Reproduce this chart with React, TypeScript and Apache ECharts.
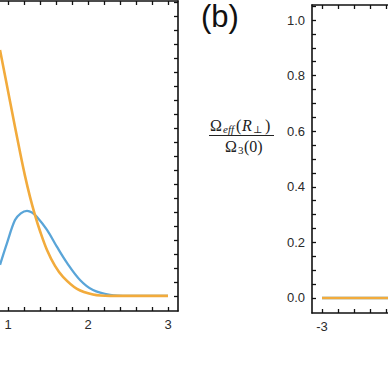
import React, { useEffect, useRef } from "react";
import * as echarts from "echarts";

// Left panel (a), visible part: x from 0.9 to 3.125
const leftBlueX = [0.9, 0.9875, 1.0875, 1.16, 1.2375, 1.3, 1.3625, 1.4875, 1.6125, 1.7375, 1.9, 2.0625, 2.275, 2.5, 3.0];
const leftBlueY = [0.111, 0.189, 0.271, 0.295, 0.304, 0.298, 0.282, 0.236, 0.175, 0.118, 0.057, 0.021, 0.004, 0, 0];
const leftOrangeX = [0.9, 1.025, 1.15, 1.2125, 1.275, 1.3375, 1.4, 1.4875, 1.5875, 1.6875, 1.8625, 2.0625, 2.275, 2.6, 3.0];
const leftOrangeY = [0.879, 0.696, 0.514, 0.429, 0.354, 0.289, 0.232, 0.164, 0.107, 0.068, 0.025, 0.005, 0, 0, 0];

// Right panel (b), visible part: x from -3.125 to about -2.18
const rightX = [-3, -2.5, -2.0];
const rightBlueY = [0, 0, 0];
const rightOrangeY = [0, 0, 0];

// Tick labels
const leftXTicks = [1, 2, 3];
const rightXTicks = [-3, -2];
const rightYTicks = [0, 0.2, 0.4, 0.6, 0.8, 1.0];

const BLUE = "#5aa5d8";
const ORANGE = "#f2ab3c";

function range(a: number, b: number, step: number): number[] {
  const out: number[] = [];
  const n = Math.round((b - a) / step);
  for (let i = 0; i <= n; i++) out.push(+(a + i * step).toFixed(4));
  return out;
}

const zip = (xs: number[], ys: number[]) => xs.map((x, i) => [x, ys[i]]);

export default function App() {
  const ref = useRef<HTMLDivElement>(null);
  useEffect(() => {
    if (!ref.current) return;
    const chart = echarts.init(ref.current, null, { renderer: "svg" });
    const lineStyle = { color: "#111", width: 1.6 };
    const tickLine = { color: "#111", width: 1.3 };
    const yMin = -0.054;
    const yMax = 1.054;
    const leftMinor = range(1, 3, 0.2);
    const rightMinor = range(-3, -2.2, 0.2);
    const yMinor = range(0, 1.05, 0.05);
    const labelStyle = { color: "#2a2a2a", fontSize: 13, fontFamily: "Arial, 'Liberation Sans', sans-serif" };
    const axisLine = { show: true, onZero: false, lineStyle };
    const option: any = {
      animation: false,
      grid: [
        { left: 0, right: 210, top: 1, bottom: 77 },
        { left: 312, right: 0, top: 5, bottom: 75 },
      ],
      xAxis: [
        {
          gridIndex: 0, type: "value", min: 0.9, max: 3.125, position: "bottom",
          axisLine,
          axisTick: { show: true, inside: true, length: 4, customValues: leftMinor, lineStyle: tickLine },
          axisLabel: { show: true, customValues: leftXTicks, margin: 7, ...labelStyle },
          splitLine: { show: false },
        },
        {
          gridIndex: 0, type: "value", min: 0.9, max: 3.125, position: "top",
          axisLine,
          axisLabel: { show: false }, splitLine: { show: false },
          axisTick: { show: true, inside: true, length: 4, customValues: leftMinor, lineStyle: tickLine },
        },
        {
          gridIndex: 1, type: "value", min: -3.125, max: -2.175, position: "bottom",
          axisLine,
          axisTick: { show: true, inside: true, length: 4, customValues: rightMinor, lineStyle: tickLine },
          axisLabel: { show: true, customValues: rightXTicks, margin: 7, ...labelStyle },
          splitLine: { show: false },
        },
        {
          gridIndex: 1, type: "value", min: -3.125, max: -2.175, position: "top",
          axisLine,
          axisLabel: { show: false }, splitLine: { show: false },
          axisTick: { show: true, inside: true, length: 4, customValues: rightMinor, lineStyle: tickLine },
        },
      ],
      yAxis: [
        {
          gridIndex: 0, type: "value", min: yMin, max: yMax, position: "right",
          axisLine,
          axisLabel: { show: false }, splitLine: { show: false },
          axisTick: { show: true, inside: true, length: 4, customValues: yMinor, lineStyle: tickLine },
        },
        {
          gridIndex: 1, type: "value", min: yMin, max: yMax, position: "left",
          axisLine,
          axisTick: { show: true, inside: true, length: 4, customValues: yMinor, lineStyle: tickLine },
          axisLabel: {
            show: true, customValues: rightYTicks, margin: 7, ...labelStyle,
            formatter: (v: number) => v.toFixed(1),
          },
          splitLine: { show: false },
        },
      ],
      series: [
        {
          type: "line", xAxisIndex: 0, yAxisIndex: 0, data: zip(leftBlueX, leftBlueY),
          showSymbol: false, smooth: 0.35, lineStyle: { color: BLUE, width: 2.3 }, itemStyle: { color: BLUE },
        },
        {
          type: "line", xAxisIndex: 0, yAxisIndex: 0, data: zip(leftOrangeX, leftOrangeY),
          showSymbol: false, smooth: 0.35, lineStyle: { color: ORANGE, width: 2.6 }, itemStyle: { color: ORANGE },
        },
        {
          type: "line", xAxisIndex: 2, yAxisIndex: 1, data: zip(rightX, rightBlueY),
          showSymbol: false, lineStyle: { color: BLUE, width: 2.3 }, itemStyle: { color: BLUE },
        },
        {
          type: "line", xAxisIndex: 2, yAxisIndex: 1, data: zip(rightX, rightOrangeY),
          showSymbol: false, lineStyle: { color: ORANGE, width: 2.6 }, itemStyle: { color: ORANGE },
        },
      ],
      graphic: [
        {
          type: "text", left: 201, top: 1,
          style: { text: "(b)", fontSize: 31, fontFamily: "Arial, 'Liberation Sans', sans-serif", fill: "#111" },
        },
        { type: "text", x: 210, y: 125, style: { text: "Ω", fontSize: 16, fontFamily: "'Liberation Serif', serif", fill: "#222", verticalAlign: "middle" } },
        { type: "text", x: 223, y: 129, style: { text: "eff", fontSize: 11, fontStyle: "italic", fontFamily: "'Liberation Serif', serif", fill: "#222", verticalAlign: "middle" } },
        { type: "text", x: 236, y: 125, style: { text: "(", fontSize: 16, fontFamily: "'Liberation Serif', serif", fill: "#222", verticalAlign: "middle" } },
        { type: "text", x: 242, y: 125, style: { text: "R", fontSize: 16, fontStyle: "italic", fontFamily: "'Liberation Serif', serif", fill: "#222", verticalAlign: "middle" } },
        { type: "text", x: 253, y: 129, style: { text: "⊥", fontSize: 10, fontFamily: "'DejaVu Serif', serif", fill: "#222", verticalAlign: "middle" } },
        { type: "text", x: 265, y: 125, style: { text: ")", fontSize: 16, fontFamily: "'Liberation Serif', serif", fill: "#222", verticalAlign: "middle" } },
        { type: "line", shape: { x1: 209, y1: 135.5, x2: 274, y2: 135.5 }, style: { stroke: "#222", lineWidth: 1 } },
        { type: "text", x: 225, y: 146, style: { text: "Ω", fontSize: 16, fontFamily: "'Liberation Serif', serif", fill: "#222", verticalAlign: "middle" } },
        { type: "text", x: 238, y: 150, style: { text: "3", fontSize: 11, fontFamily: "'Liberation Serif', serif", fill: "#222", verticalAlign: "middle" } },
        { type: "text", x: 244, y: 146, style: { text: "(0)", fontSize: 16, fontFamily: "'Liberation Serif', serif", fill: "#222", verticalAlign: "middle" } },
      ],
    };
    chart.setOption(option);
    return () => chart.dispose();
  }, []);
  return (
    <div
      ref={ref}
      style={{ position: "fixed", left: 0, top: 0, width: 388, height: 388, background: "#fff" }}
    />
  );
}
